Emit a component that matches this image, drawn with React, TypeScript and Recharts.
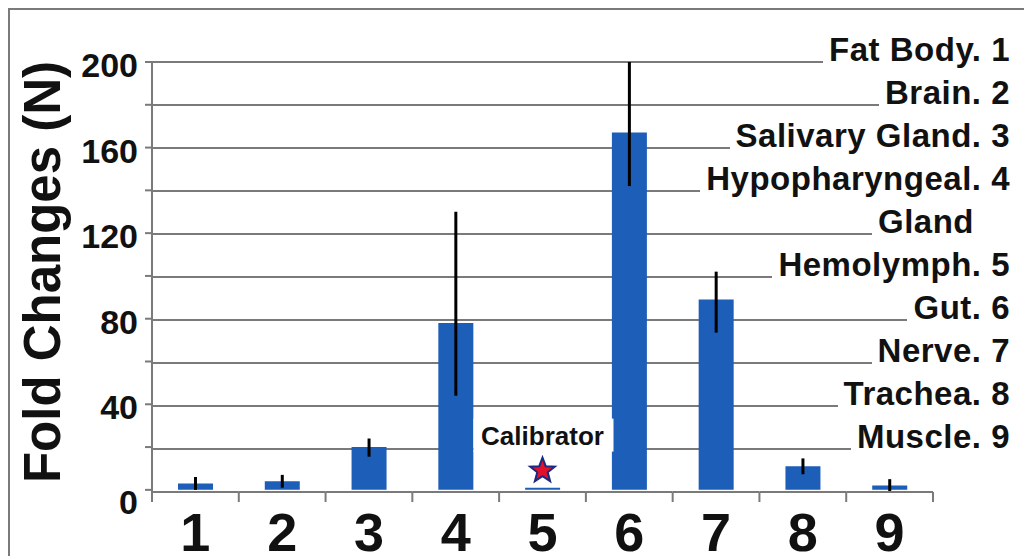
import {BarChart, Bar, XAxis, YAxis, CartesianGrid, ErrorBar, ReferenceDot} from 'recharts';

const tissues = ['1', '2', '3', '4', '5', '6', '7', '8', '9'];
const foldChange = [3, 4, 20, 78, 1, 167, 89, 11, 2];
const errLow = [3, 3, 4.5, 34, 0, 25, 15.5, 3.7, 3];
const errHigh = [3, 3, 4, 52, 0, 33, 13, 3.7, 3];
const yTicks = [0, 20, 40, 60, 80, 100, 120, 140, 160, 180, 200];
const legendLabels = [
    'Fat Body. 1', 'Brain. 2', 'Salivary Gland. 3', 'Hypopharyngeal. 4', 'Gland',
    'Hemolymph. 5', 'Gut. 6', 'Nerve. 7', 'Trachea. 8', 'Muscle. 9',
];
const calibrator = {tissue: '5', value: 9, label: 'Calibrator'};

const data = tissues.map((t, i) => ({tissue: t, fold: foldChange[i], err: [errLow[i], errHigh[i]]}));

const FONT = '"Liberation Sans", Arial, sans-serif';
const GRID = '#7a7a7a';
const BLUE = '#1d5eb8';
const Y_MAX = 200;
const MARGIN = {top: 62, right: 14, bottom: 0, left: 0};
const CHART_H = 556;
const X_AXIS_H = 64;

function XTick(props: any) {
    const {x, y, payload, index} = props;
    const half = payload && payload.offset ? payload.offset : 43.4;
    const last = index === tissues.length - 1;
    return (
        <g>
            <line x1={x - half} x2={x + half} y1={y} y2={y} stroke={GRID} strokeWidth={2}/>
            <line x1={x - half} x2={x - half} y1={y} y2={y + 10} stroke={GRID} strokeWidth={2}/>
            {last && <line x1={x + half} x2={x + half} y1={y} y2={y + 10} stroke={GRID} strokeWidth={2}/>}
            <text x={x} y={y + 59} textAnchor="middle" fontSize={54} fontWeight="bold" fontFamily={FONT} fill="#111">
                {payload.value}
            </text>
        </g>
    );
}

function YTick(props: any) {
    const {x, y, payload} = props;
    if (payload.value % 40 !== 0) return <g/>;
    const dy = payload.value === 0 ? 24 : 15;
    return (
        <text x={x} y={y + dy} textAnchor="end" fontSize={34} fontWeight="bold" fontFamily={FONT} fill="#111">
            {payload.value}
        </text>
    );
}

function YTitle(props: any) {
    const vb = props.viewBox;
    const cx = vb.x + 60;
    const cy = vb.y + vb.height / 2 - 5;
    return (
        <text x={cx} y={cy} transform={`rotate(-90, ${cx}, ${cy})`} textAnchor="middle"
              fontSize={51} fontWeight="bold" fontFamily={FONT} fill="#111">
            Fold Changes (N)
        </text>
    );
}

// the zero line is drawn by the x-axis ticks (it stops at the last category)
function gridRows(args: any) {
    const off = args && args.offset && typeof args.offset.top === 'number'
        ? args.offset
        : {top: MARGIN.top, height: CHART_H - MARGIN.top - X_AXIS_H};
    return yTicks.filter(v => v > 0).map(v => off.top + off.height * (1 - v / Y_MAX));
}

function Star(props: any) {
    const {cx, cy} = props;
    const pts = [];
    for (let i = 0; i < 10; i++) {
        const r = i % 2 === 0 ? 13 : 5.5;
        const a = -Math.PI / 2 + (i * Math.PI) / 5;
        pts.push(`${cx + r * Math.cos(a)},${cy + r * Math.sin(a)}`);
    }
    return <polygon points={pts.join(' ')} fill="#e3102a" stroke="#1b2a80" strokeWidth={2}/>;
}

function CalibratorLabel(props: any) {
    const vb = props.viewBox;
    const cx = vb.x + vb.width / 2;
    const cy = vb.y + vb.height / 2;
    return (
        <g>
            <rect x={cx - 69} y={cy - 52} width={140} height={33} fill="#fff"/>
            <text x={cx} y={cy - 26} textAnchor="middle" fontSize={26} fontWeight="bold" fontFamily={FONT} fill="#111">
                {calibrator.label}
            </text>
        </g>
    );
}

export default function App() {
    return (
        <div style={{position: 'absolute', left: 0, top: 0, width: 1024, height: CHART_H, overflow: 'hidden', background: '#fff'}}>
            <div style={{position: 'absolute', left: 8, top: 8, width: 1100, height: 700, borderLeft: `2px solid ${GRID}`, borderTop: `2px solid ${GRID}`}}/>
            <div style={{position: 'absolute', left: 0, top: 0}}>
                <BarChart width={1024} height={CHART_H} data={data} margin={MARGIN}>
                    <CartesianGrid vertical={false} horizontalCoordinatesGenerator={gridRows} stroke={GRID} strokeWidth={2}/>
                    <XAxis dataKey="tissue" height={X_AXIS_H} axisLine={false} tickLine={false} tickSize={0} tickMargin={0}
                           padding={{left: 0, right: 77}} tick={<XTick/>} interval={0}/>
                    <YAxis width={152} domain={[0, Y_MAX]} ticks={yTicks} interval={0} tickSize={7} tickMargin={7}
                           axisLine={{stroke: GRID, strokeWidth: 2}} tickLine={{stroke: GRID, strokeWidth: 2}}
                           tick={<YTick/>} label={{content: YTitle}}/>
                    <Bar dataKey="fold" fill={BLUE} barSize={35} isAnimationActive={false}>
                        <ErrorBar dataKey="err" width={0} stroke="#000" strokeWidth={3} isAnimationActive={false}/>
                    </Bar>
                    <ReferenceDot x={calibrator.tissue} y={calibrator.value} r={10}
                                  shape={(p: any) => <Star {...p}/>} label={{content: CalibratorLabel}}/>
                </BarChart>
            </div>
            {legendLabels.map((label, i) => (
                <div key={label} style={{
                    position: 'absolute', right: 14, top: 62 + i * 43 - 29, lineHeight: '33px',
                    fontFamily: FONT, fontWeight: 'bold', fontSize: 33, letterSpacing: 0.5, color: '#111', whiteSpace: 'nowrap',
                }}>
                    <span style={{background: '#fff', paddingLeft: 6, paddingRight: label === 'Gland' ? 36 : 0}}>{label}</span>
                </div>
            ))}
        </div>
    );
}
